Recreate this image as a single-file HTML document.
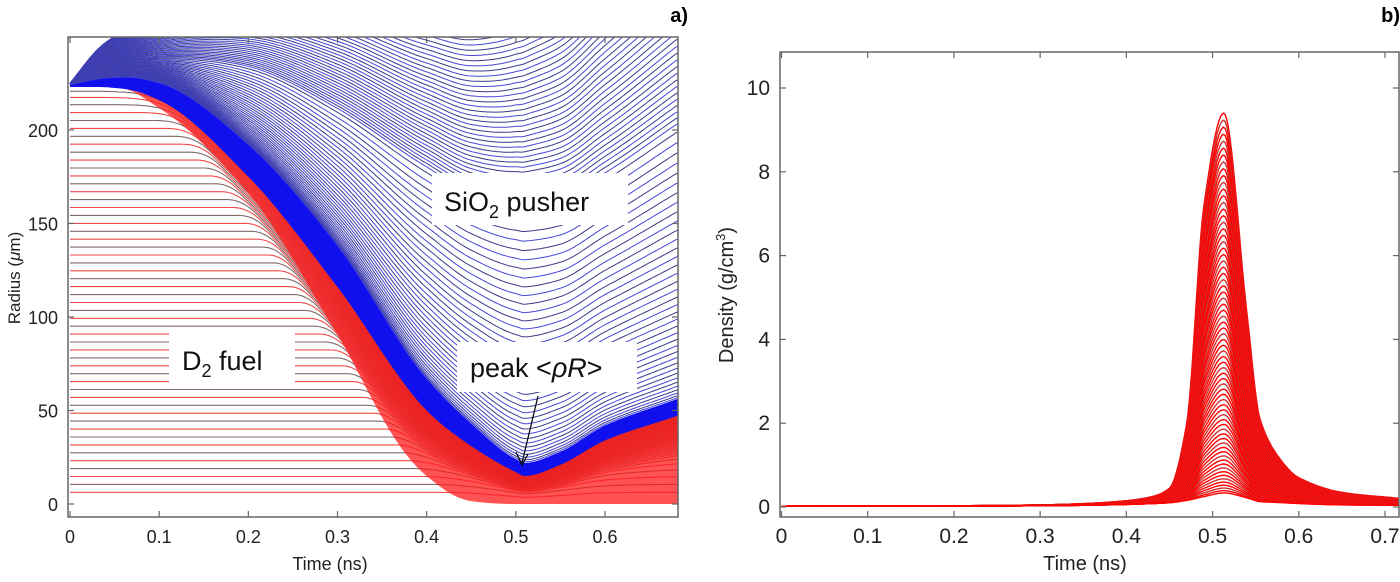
<!DOCTYPE html>
<html><head><meta charset="utf-8"><style>
html,body{margin:0;padding:0;background:#fff;}
svg{display:block;font-family:"Liberation Sans",Arial,sans-serif;}
</style></head><body>
<svg id="fig" width="1400" height="582" viewBox="0 0 1400 582" xmlns="http://www.w3.org/2000/svg">
<defs>
<clipPath id="clipA"><rect x="68" y="37" width="610" height="480"/></clipPath>
<clipPath id="clipB"><rect x="780" y="52" width="619" height="465"/></clipPath>
</defs>
<g id="panelA">
<g id="marksA" clip-path="url(#clipA)"></g>
<rect x="68" y="37" width="610" height="480" fill="none" stroke="#666" stroke-width="1.5"/>
<g id="ticksA"></g>
<text x="330" y="570" font-size="18" text-anchor="middle" fill="#222">Time (ns)</text>
<text transform="translate(20,278) rotate(-90)" font-size="17" text-anchor="middle" fill="#222">Radius (<tspan font-style="italic">μ</tspan>m)</text>
<text x="688" y="22" font-size="20" font-weight="bold" text-anchor="end">a)</text>
<rect x="432" y="173" width="196" height="52" fill="#fff"/>
<text x="444" y="211" font-size="27" fill="#111">SiO<tspan font-size="18" dy="7">2</tspan><tspan dy="-7"> pusher</tspan></text>
<rect x="169" y="333" width="126" height="50" fill="#fff"/>
<text x="182" y="370" font-size="27" fill="#111">D<tspan font-size="18" dy="7">2</tspan><tspan dy="-7">  fuel</tspan></text>
<rect x="457" y="342" width="180" height="50" fill="#fff"/>
<text x="470" y="377" font-size="27" fill="#111">peak &lt;<tspan font-style="italic">ρR</tspan>&gt;</text>
<g>
<line x1="538" y1="396" x2="522" y2="463" stroke="#000" stroke-width="1.2"/>
<polyline points="516,452 522,465 528,454" fill="none" stroke="#000" stroke-width="1.2"/>
</g>
</g>
<g id="panelB">
<g id="marksB" clip-path="url(#clipB)"></g>
<rect x="780" y="52" width="619" height="465" fill="none" stroke="#666" stroke-width="1.5"/>
<g id="ticksB"></g>
<text x="1085" y="570" font-size="20" text-anchor="middle" fill="#222">Time (ns)</text>
<text transform="translate(733,295) rotate(-90)" font-size="20" text-anchor="middle" fill="#222">Density (g/cm<tspan font-size="13" dy="-8">3</tspan><tspan dy="8">)</tspan></text>
<text x="1400" y="22" font-size="20" font-weight="bold" text-anchor="end">b)</text>
</g>
</svg>
<script>
// ---- Panel a data ----
const timesA = [0, 0.03, 0.06, 0.1, 0.2, 0.3, 0.4, 0.45, 0.5, 0.51, 0.55, 0.6, 0.68];
const fuelEdge = [223, 223, 222, 216, 175, 116, 50, 31, 17, 15, 21, 34, 47];
const fuelBandLow = [1, 1, 1, 0.98, 0.95, 0.78, 0.3, 0.05, 0, 0, 0, 0, 0];
const pusherBand = [1, 4, 6, 9, 17, 22, 17, 12, 7, 7, 7, 8, 9];
const pusherCenter = [224, 224, 222, 216, 192, 152, 115, 100, 92, 90, 88, 94, 110];
const pusherSpread = [0, 14, 24, 38, 70, 105, 135, 152, 172, 176, 190, 210, 235];
const xTicksA = [0, 0.1, 0.2, 0.3, 0.4, 0.5, 0.6];
const yTicksA = [0, 50, 100, 150, 200];
// ---- Panel b data ----
const timesB = [0, 0.2, 0.3, 0.35, 0.4, 0.43, 0.45, 0.47, 0.49, 0.513, 0.54, 0.555, 0.58, 0.6, 0.65, 0.72];
const densityPeak = [0.02, 0.03, 0.05, 0.08, 0.15, 0.25, 0.45, 2.0, 7.2, 9.4, 4.6, 2.1, 1.1, 0.7, 0.35, 0.2];
const densityBase = [0.02, 0.02, 0.03, 0.04, 0.06, 0.08, 0.1, 0.15, 0.22, 0.3, 0.2, 0.12, 0.1, 0.08, 0.05, 0.04];
const xTicksB = [0, 0.1, 0.2, 0.3, 0.4, 0.5, 0.6, 0.7];
const yTicksB = [0, 2, 4, 6, 8, 10];

const NS = "http://www.w3.org/2000/svg";
const xA = t => 70 + t * (605 - 70) / 0.6;
const yA = r => 504 - r * (504 - 130) / 200;
const xB = t => 781.5 + t * (1385 - 781.5) / 0.7;
const yB = d => 507 - d * (507 - 88) / 10;

function interp(T, V, t) {
  if (t <= T[0]) return V[0];
  const n = T.length;
  if (t >= T[n - 1]) return V[n - 1];
  let i = 0; while (t > T[i + 1]) i++;
  const h = T[i + 1] - T[i];
  const sl = k => (V[k + 1] - V[k]) / (T[k + 1] - T[k]);
  const d = k => {
    if (k === 0) return sl(0);
    if (k === n - 1) return sl(n - 2);
    const a = sl(k - 1), b = sl(k);
    return a * b <= 0 ? 0 : 2 / (1 / a + 1 / b);
  };
  const s = (t - T[i]) / h, m0 = d(i) * h, m1 = d(i + 1) * h;
  const s2 = s * s, s3 = s2 * s;
  return (2 * s3 - 3 * s2 + 1) * V[i] + (s3 - 2 * s2 + s) * m0 + (-2 * s3 + 3 * s2) * V[i + 1] + (s3 - s2) * m1;
}
function mk(tag, attrs, parent) {
  const e = document.createElementNS(NS, tag);
  for (const k in attrs) e.setAttribute(k, attrs[k]);
  parent.appendChild(e); return e;
}
const gA = document.getElementById('marksA');
const steps = 280, tEnd = 0.69;
const R0 = fuelEdge[0];

// pusher lines (blue)
const NP = 80;
for (let j = NP; j >= 1; j--) {
  const s = Math.pow(j / NP, 1.5);
  const a = Math.min(1, 3 * s);
  let pts = [];
  for (let k = 0; k <= steps; k++) {
    const t = k / steps * tEnd;
    const f = interp(timesA, fuelEdge, t);
    const r = (1 - a) * f + a * interp(timesA, pusherCenter, t) + interp(timesA, pusherBand, t) + s * interp(timesA, pusherSpread, t) * 1.05;
    pts.push(xA(t).toFixed(1) + ',' + yA(r).toFixed(1));
  }
  const p = mk('polyline', {points: pts.join(' '), fill: 'none', stroke: j % 2 ? '#4646d8' : '#3a3a8a', 'stroke-width': 1}, gA);
  
  
}
// fuel lines (red / gray)
const NF = 52;
for (let i = 1; i <= NF; i++) {
  const f = i / NF;
  const r0 = 2 + f * (R0 - 3);
  let pts = [];
  for (let k = 0; k <= steps; k++) {
    const t = k / steps * tEnd;
    const cap = interp(timesA, fuelEdge, t) * Math.pow(f, 0.3);
    const d = r0 - cap, kw = 7;
    const r = d > kw ? cap : (d < -kw ? r0 : r0 - (d + kw) * (d + kw) / (4 * kw));
    pts.push(xA(t).toFixed(1) + ',' + yA(r).toFixed(1));
  }
  const col = i % 2 ? '#ee2a2a' : '#6a5050';
  const p = mk('polyline', {points: pts.join(' '), fill: 'none', stroke: col, 'stroke-width': 1.1, 'stroke-opacity': 0.85}, gA);
  
  
}
// fuel compressed band (on top of lines)
{
  let up = [], lo = [];
  for (let k = 0; k <= steps; k++) {
    const t = k / steps * tEnd, f = interp(timesA, fuelEdge, t);
    up.push(xA(t).toFixed(1) + ',' + yA(f).toFixed(1));
    lo.unshift(xA(t).toFixed(1) + ',' + yA(f * Math.max(0, interp(timesA, fuelBandLow, t))).toFixed(1));
  }
  const p = mk('polygon', {points: up.concat(lo).join(' '), fill: '#ff1a1a', 'fill-opacity': 0.75}, gA);
  
  
}
// pusher dense band
{
  let up = [], lo = [];
  for (let k = 0; k <= steps; k++) {
    const t = k / steps * tEnd, f = interp(timesA, fuelEdge, t);
    up.push(xA(t).toFixed(1) + ',' + yA(f + interp(timesA, pusherBand, t)).toFixed(1));
    lo.unshift(xA(t).toFixed(1) + ',' + yA(f).toFixed(1));
  }
  const p = mk('polygon', {points: up.concat(lo).join(' '), fill: '#1010ee'}, gA);
  
  
}

function ticks(gid, xs, ys, fx, fy, x0, x1, y0, y1, fs) {
  const g = document.getElementById(gid);
  xs.forEach(v => {
    const x = fx(v);
    mk('line', {x1: x, x2: x, y1: y1, y2: y1 - 6, stroke: '#666', 'stroke-width': 1.2}, g);
    mk('line', {x1: x, x2: x, y1: y0, y2: y0 + 6, stroke: '#666', 'stroke-width': 1.2}, g);
    const t = mk('text', {x: x, y: y1 + 26, 'font-size': fs, 'text-anchor': 'middle', fill: '#222'}, g);
    t.textContent = String(v);
    
    
  });
  ys.forEach(v => {
    const y = fy(v);
    mk('line', {x1: x0, x2: x0 + 6, y1: y, y2: y, stroke: '#666', 'stroke-width': 1.2}, g);
    mk('line', {x1: x1, x2: x1 - 6, y1: y, y2: y, stroke: '#666', 'stroke-width': 1.2}, g);
    const t = mk('text', {x: x0 - 10, y: y + 7, 'font-size': fs, 'text-anchor': 'end', fill: '#222'}, g);
    t.textContent = String(v);
    
    
  });
}
ticks('ticksA', xTicksA, yTicksA, xA, yA, 68, 678, 37, 517, 18);
ticks('ticksB', xTicksB, yTicksB, xB, yB, 780, 1399, 52, 517, 21);

// ---- Panel b curves ----
const gB = document.getElementById('marksB');
const NB = 70;
for (let k = NB; k >= 1; k--) {
  const a = Math.pow(k / NB, 1.3);
  let pts = [];
  for (let s = 0; s <= 400; s++) {
    const t = s / 400 * 0.73;
    const b = interp(timesB, densityBase, t), p = interp(timesB, densityPeak, t);
    const d = b + (p - b) * a;
    pts.push(xB(t).toFixed(1) + ',' + yB(d).toFixed(1));
  }
  const col = k % 3 === 0 ? '#cc3333' : '#ff0000';
  const p = mk('polyline', {points: pts.join(' '), fill: 'none', stroke: col, 'stroke-width': 1.4}, gB);
  
  
}
</script>
</body></html>
